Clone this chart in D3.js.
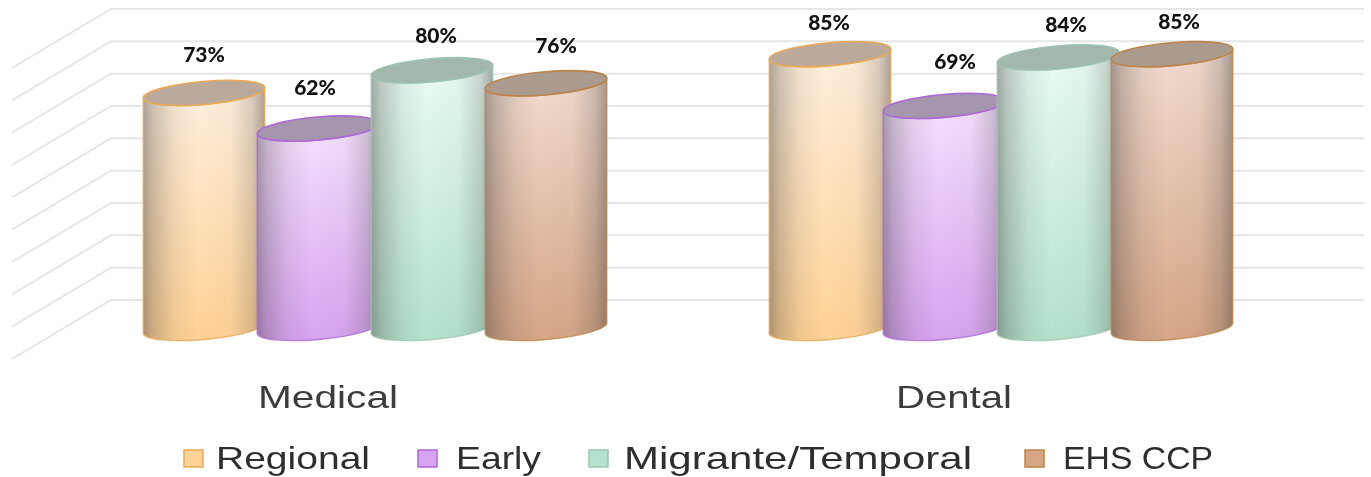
<!DOCTYPE html>
<html>

<head>
    <meta charset="utf-8">
    <script src="https://cdn.jsdelivr.net/npm/d3@7"></script>
    <style>
        html, body { margin: 0; padding: 0; background: #fff; overflow: hidden; }
    </style>
</head>

<body>
    <svg id="chart" width="1371" height="477"></svg>
    <script>
        const categories = ["Medical", "Dental"];
        const seriesNames = ["Regional", "Early", "Migrante/Temporal", "EHS CCP"];
        const regional = [73, 85];
        const early = [62, 69];
        const migrante = [80, 84];
        const ehsCcp = [76, 85];
        const gridTicks = [0, 10, 20, 30, 40, 50, 60, 70, 80, 90];

        const seriesValues = [regional, early, migrante, ehsCcp];

        // colours per series: light top, saturated bottom, outline, cap
        const topColors = ["#fff0df", "#f5e2fe", "#eafcf3", "#f2dccf"];
        const bottomColors = ["#ffd295", "#d8a3f0", "#b4e2cc", "#d5a586"];
        const edgeColors = ["#e9a955", "#ac68d6", "#9cc4b2", "#bc8448"];
        const capColors = ["#bbaa9b", "#a596ad", "#a2b8ac", "#ab9b8f"];

        // the labels sit a little off centre in the original
        const labelShiftX = [[0, -3, 4, 10], [-1, 11, 8, 7]];
        const labelShiftY = [[-38, -41, -35, -38], [-32, -44, -33, -33]];

        const svg = d3.select("#chart");
        const defs = svg.append("defs");

        const y = d3.scaleLinear().domain([0, 90]).range([300, 9]);
        const xGroup = d3.scaleBand().domain(categories).range([62, 1314]);
        const xBar = d3.scalePoint().domain(seriesNames).range([-171, 171]);

        const depthX = 99, depthY = 59; // floor/side wall offset
        const frontY = 29; // bars stand this far in front of the back wall
        const rx = 61, ry = 11.5, tilt = -5;
        const endX = rx * Math.cos(tilt * Math.PI / 180);
        const endY = rx * Math.sin(tilt * Math.PI / 180);

        defs.append("filter").attr("id", "soft")
            .append("feGaussianBlur").attr("stdDeviation", 0.7);
        defs.append("filter").attr("id", "softer")
            .append("feGaussianBlur").attr("stdDeviation", 0.6);

        // grid: back wall and side wall
        const grid = svg.append("g").attr("filter", "url(#softer)")
            .attr("stroke", "#e6e6e6").attr("stroke-width", 2).attr("fill", "none");
        grid.selectAll("path")
            .data(gridTicks)
            .enter().append("path")
            .attr("d", d => `M${111 - depthX},${y(d) + depthY}L111,${y(d)}H1364`);

        // gradients
        seriesNames.forEach((s, i) => {
            const g = defs.append("linearGradient")
                .attr("id", "body" + i).attr("x1", 0).attr("y1", 0).attr("x2", 0).attr("y2", 1);
            g.append("stop").attr("offset", "0%").attr("stop-color", topColors[i]);
            g.append("stop").attr("offset", "100%").attr("stop-color", bottomColors[i]);
        });
        const shade = defs.append("linearGradient").attr("id", "shade").attr("x1", 0).attr("y1", 0).attr("x2", 1).attr("y2", 0);
        [[0, 0.42], [0.08, 0.26], [0.25, 0.08], [0.45, 0], [0.72, 0.03], [0.9, 0.2], [1, 0.42]].forEach(d => {
            shade.append("stop").attr("offset", d[0]).attr("stop-color", "#3c3838").attr("stop-opacity", d[1]);
        });

        const cylinderPath = (cx, cy, by) =>
            `M${cx - endX},${cy - endY}` +
            `L${cx - endX},${by - endY}` +
            `A${rx},${ry} ${tilt} 0 0 ${cx + endX},${by + endY}` +
            `L${cx + endX},${cy + endY}` +
            `A${rx},${ry} ${tilt} 0 1 ${cx - endX},${cy - endY}Z`;

        const bars = svg.append("g").attr("filter", "url(#soft)");
        const labels = svg.append("g");

        categories.forEach((cat, c) => {
            seriesNames.forEach((s, i) => {
                const value = seriesValues[i][c];
                const cx = xGroup(cat) + xGroup.bandwidth() / 2 + xBar(s);
                const cy = y(value) + frontY;
                const by = y(0) + frontY - 1;
                const d = cylinderPath(cx, cy, by);

                const bar = bars.append("g");
                bar.append("path").attr("d", d).attr("fill", `url(#body${i})`);
                bar.append("path").attr("d", d).attr("fill", "url(#shade)")
                    .attr("stroke", edgeColors[i]).attr("stroke-width", 1.4).attr("stroke-opacity", 0.8);
                bar.append("ellipse")
                    .attr("rx", rx).attr("ry", ry)
                    .attr("transform", `translate(${cx},${cy}) rotate(${tilt})`)
                    .attr("fill", capColors[i])
                    .attr("stroke", edgeColors[i]).attr("stroke-width", 1.6);

                labels.append("text")
                    .attr("x", cx + labelShiftX[c][i])
                    .attr("y", cy + labelShiftY[c][i])
                    .attr("dy", "0.35em")
                    .attr("text-anchor", "middle")
                    .attr("font-family", "Lato, sans-serif")
                    .attr("font-weight", 900)
                    .attr("font-size", 21)
                    .attr("fill", "#111")
                    .text(value + "%");
            });
        });

        // category names, stretched wide like the original
        const catWidth = [140, 116];
        svg.append("g").selectAll("text")
            .data(categories)
            .enter().append("text")
            .attr("x", d => xGroup(d) + xGroup.bandwidth() / 2 - 47)
            .attr("y", 408)
            .attr("text-anchor", "middle")
            .attr("font-family", "'Liberation Sans Narrow', 'Liberation Sans', sans-serif")
            .attr("font-size", 32)
            .attr("fill", "#3c3c3c")
            .attr("textLength", (d, i) => catWidth[i])
            .attr("lengthAdjust", "spacingAndGlyphs")
            .text(d => d);

        // legend
        const swatchX = [184, 418, 589, 1025];
        const legendTextX = [216, 456, 624, 1063];
        const legendWidth = [154, 85, 348, 150];
        const legend = svg.append("g").selectAll("g")
            .data(seriesNames)
            .enter().append("g");
        legend.append("rect")
            .attr("x", (d, i) => swatchX[i])
            .attr("y", 450)
            .attr("width", 19)
            .attr("height", 17)
            .attr("fill", (d, i) => bottomColors[i])
            .attr("stroke", (d, i) => edgeColors[i])
            .attr("stroke-width", 1.5);
        legend.append("text")
            .attr("x", (d, i) => legendTextX[i])
            .attr("y", 469)
            .attr("font-family", "'Liberation Sans Narrow', 'Liberation Sans', sans-serif")
            .attr("font-size", 32)
            .attr("fill", "#2e2e2e")
            .attr("textLength", (d, i) => legendWidth[i])
            .attr("lengthAdjust", "spacingAndGlyphs")
            .text(d => d);
    </script>
</body>

</html>
